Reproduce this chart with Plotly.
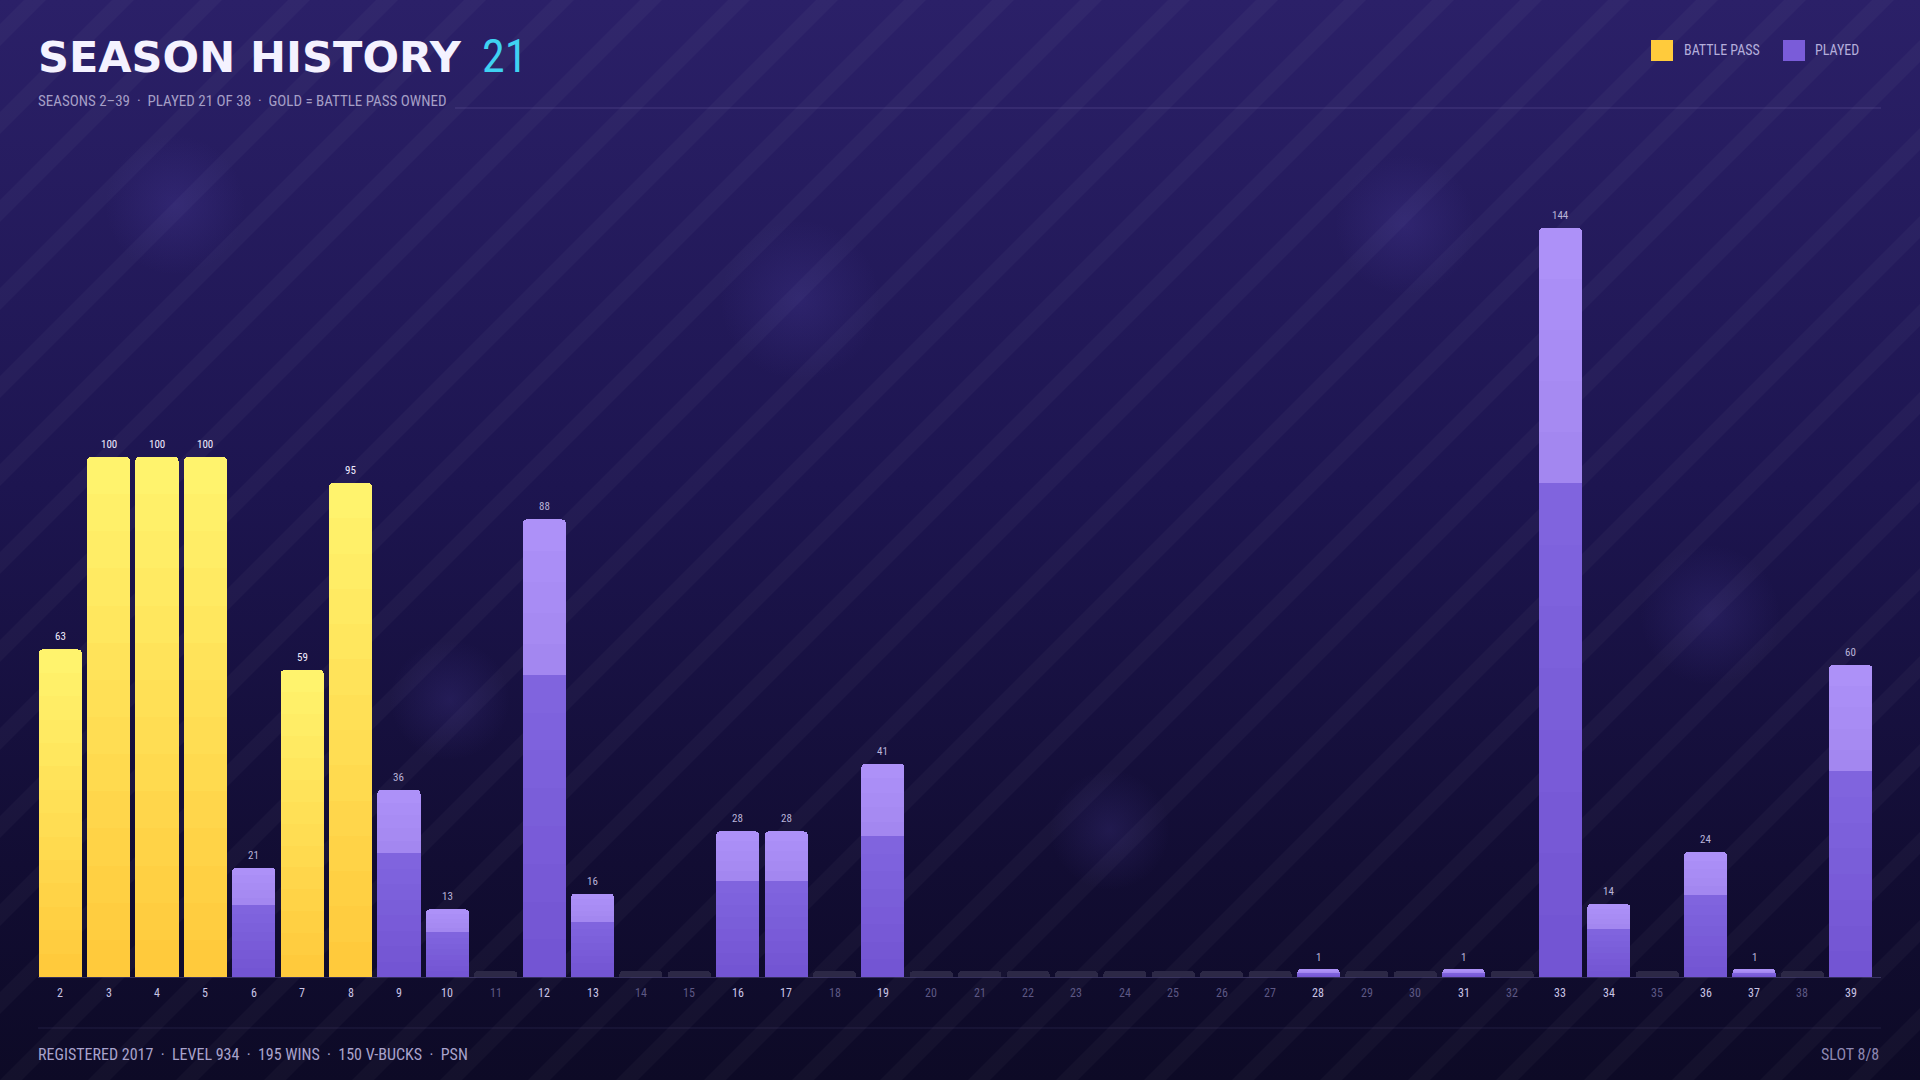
import base64
import plotly.graph_objects as go

# ---------------- data ----------------
seasons = list(range(2, 40))
levels = [63, 100, 100, 100, 21, 59, 95, 36, 13, 0, 88, 16, 0, 0, 28, 28, 0, 41,
          0, 0, 0, 0, 0, 0, 0, 0, 1, 0, 0, 1, 0, 144, 14, 0, 24, 1, 0, 60]
battle_pass = [2, 3, 4, 5, 7, 8]

title_main = "SEASON HISTORY"
title_num = "21"
subtitle = "SEASONS 2\u201339  \u00b7  PLAYED 21 OF 38  \u00b7  GOLD = BATTLE PASS OWNED"
footer_left = "REGISTERED 2017  \u00b7  LEVEL 934  \u00b7  195 WINS  \u00b7  150 V-BUCKS  \u00b7  PSN"
footer_right = "SLOT 8/8"
legend_items = ["BATTLE PASS", "PLAYED"]

# ---------------- geometry ----------------
W, H = 1920, 1080
L, R, T, B = 36, 45, 145, 103
PW, PH = W - L - R, H - T - B
YMAX = 160
MIN_VIS = 1.35
STUB = 1.15

def px(x):
    return (x - L) / PW

def py(y):
    return 1 - (y - T) / PH

COND = "Liberation Sans Narrow, Roboto Condensed, Arial Narrow, sans-serif"

# ---------------- background svg ----------------
stripes = []
for i in range(-20, 40):
    x0 = i * 88
    stripes.append(f'<polygon points="{x0},{H} {x0+22},{H} {x0+22+H},0 {x0+H},0" fill="white" fill-opacity="0.03"/>')
svg = f'''<svg xmlns="http://www.w3.org/2000/svg" width="{W}" height="{H}" viewBox="0 0 {W} {H}">
<defs>
<linearGradient id="g" x1="0" y1="0" x2="0" y2="1">
<stop offset="0" stop-color="#2b2068"/>
<stop offset="0.45" stop-color="#1d1550"/>
<stop offset="0.8" stop-color="#120d33"/>
<stop offset="1" stop-color="#0d0a26"/>
</linearGradient>
<radialGradient id="r" cx="0.5" cy="0.5" r="0.5">
<stop offset="0" stop-color="#6a5ad0" stop-opacity="0.16"/>
<stop offset="1" stop-color="#6a5ad0" stop-opacity="0"/>
</radialGradient>
</defs>
<rect width="{W}" height="{H}" fill="url(#g)"/>
{''.join(stripes)}
<circle cx="175" cy="205" r="70" fill="url(#r)"/>
<circle cx="800" cy="300" r="80" fill="url(#r)"/>
<circle cx="1405" cy="225" r="70" fill="url(#r)"/>
<circle cx="1710" cy="615" r="70" fill="url(#r)"/>
<circle cx="1110" cy="830" r="60" fill="url(#r)"/>
<circle cx="450" cy="700" r="60" fill="url(#r)"/>
</svg>'''
bg_uri = "data:image/svg+xml;base64," + base64.b64encode(svg.encode()).decode()

# ---------------- traces ----------------
fig = go.Figure()

stub_x = [s for s, v in zip(seasons, levels) if v == 0]
fig.add_trace(go.Bar(x=stub_x, y=[STUB] * len(stub_x), marker_color="#2c2846",
                     marker_line_width=0, hoverinfo="skip", showlegend=False))

def lerp(c1, c2, t):
    a = [int(c1[i:i + 2], 16) for i in (1, 3, 5)]
    b = [int(c2[i:i + 2], 16) for i in (1, 3, 5)]
    return "#" + "".join(f"{round(x + (y - x) * t):02x}" for x, y in zip(a, b))

gold_x = [s for s, v in zip(seasons, levels) if s in battle_pass and v > 0]
gold_v = [v for s, v in zip(seasons, levels) if s in battle_pass and v > 0]
NG = 14
for k in range(NG):
    c = lerp("#ffc83a", "#fff56f", (k + 0.5) / NG)
    fig.add_trace(go.Bar(x=gold_x, y=[v / NG for v in gold_v], marker_color=c,
                         marker_line_width=0, hoverinfo="skip", showlegend=False))

pur_x = [s for s, v in zip(seasons, levels) if s not in battle_pass and v > 0]
pur_v = [max(v, MIN_VIS) for s, v in zip(seasons, levels) if s not in battle_pass and v > 0]
NL, NU = 8, 5
for k in range(NL):
    c = lerp("#7254d2", "#8165df", (k + 0.5) / NL)
    fig.add_trace(go.Bar(x=pur_x, y=[v * 0.66 / NL for v in pur_v], marker_color=c,
                         marker_line_width=0, hoverinfo="skip", showlegend=False))
for k in range(NU):
    c = lerp("#a286ef", "#ae92f9", (k + 0.5) / NU)
    fig.add_trace(go.Bar(x=pur_x, y=[v * 0.34 / NU for v in pur_v], marker_color=c,
                         marker_line_width=0, hoverinfo="skip", showlegend=False))

# ---------------- annotations ----------------
ann = []
for s, v in zip(seasons, levels):
    if v > 0:
        ann.append(dict(x=s, y=max(v, MIN_VIS), xref="x", yref="y", text=str(v),
                        xanchor="center", yanchor="bottom", yshift=4,
                        font=dict(family=COND, size=11,
                                  color="#f0ecff" if s in battle_pass else "#b9b3d8")))
    ann.append(dict(x=s, y=py(993), xref="x", yref="paper", text=str(s),
                    xanchor="center", yanchor="middle",
                    font=dict(family=COND, size=12,
                              color="#c9c4e4" if v > 0 else "#5d5884")))

ann += [
    dict(x=px(36), y=py(57), text=title_main, xanchor="left", yanchor="middle",
         font=dict(family="DejaVu Sans", size=43, color="#f4f2ff", weight=900)),
    dict(x=px(480), y=py(56), text=title_num, xanchor="left", yanchor="middle",
         font=dict(family=COND, size=46, color="#3fd2f2")),
    dict(x=px(36), y=py(101), text=subtitle, xanchor="left", yanchor="middle",
         font=dict(family=COND, size=15, color="#a59fc6")),
    dict(x=px(36), y=py(1054), text=footer_left, xanchor="left", yanchor="middle",
         font=dict(family=COND, size=16, color="#a9a3cc")),
    dict(x=px(1881), y=py(1054), text=footer_right, xanchor="right", yanchor="middle",
         font=dict(family=COND, size=16, color="#8e88b2")),
    dict(x=px(1682), y=py(50), text=legend_items[0], xanchor="left", yanchor="middle",
         font=dict(family=COND, size=14, color="#b4aedb")),
    dict(x=px(1813), y=py(50), text=legend_items[1], xanchor="left", yanchor="middle",
         font=dict(family=COND, size=14, color="#b4aedb")),
]
for a in ann:
    a.setdefault("showarrow", False)
    a.setdefault("xref", "paper")
    a.setdefault("yref", "paper")

shapes = [
    dict(type="line", xref="paper", yref="paper", x0=px(455), x1=px(1881),
         y0=py(108), y1=py(108), line=dict(color="rgba(150,140,210,0.25)", width=1)),
    dict(type="line", xref="paper", yref="paper", x0=px(38), x1=px(1881),
         y0=py(977.5), y1=py(977.5), line=dict(color="rgba(120,112,180,0.35)", width=1)),
    dict(type="line", xref="paper", yref="paper", x0=px(38), x1=px(1881),
         y0=py(1028), y1=py(1028), line=dict(color="rgba(120,112,180,0.18)", width=1)),
    dict(type="rect", xref="paper", yref="paper", x0=px(1651), x1=px(1673),
         y0=py(61), y1=py(40), fillcolor="#ffcb3c", line=dict(width=0), layer="above"),
    dict(type="rect", xref="paper", yref="paper", x0=px(1783), x1=px(1805),
         y0=py(61), y1=py(40), fillcolor="#7a5cd9", line=dict(width=0), layer="above"),
]

fig.update_layout(
    width=W, height=H,
    margin=dict(l=L, r=R, t=T, b=B, autoexpand=False),
    paper_bgcolor="#0e0a26", plot_bgcolor="rgba(0,0,0,0)",
    barmode="stack", bargap=0.11, barcornerradius=4,
    showlegend=False,
    xaxis=dict(range=[1.5, 39.5], showgrid=False, zeroline=False,
               showticklabels=False, fixedrange=True),
    yaxis=dict(range=[0, YMAX], showgrid=False, zeroline=False,
               showticklabels=False, fixedrange=True),
    annotations=ann, shapes=shapes,
    images=[dict(source=bg_uri, xref="paper", yref="paper",
                 x=px(0), y=py(0), sizex=W / PW, sizey=H / PH,
                 xanchor="left", yanchor="top", sizing="stretch", layer="below")],
)

fig.write_html("out.html", config={"displayModeBar": False},
               post_script="document.body.style.margin='0';document.body.style.overflow='hidden';")
